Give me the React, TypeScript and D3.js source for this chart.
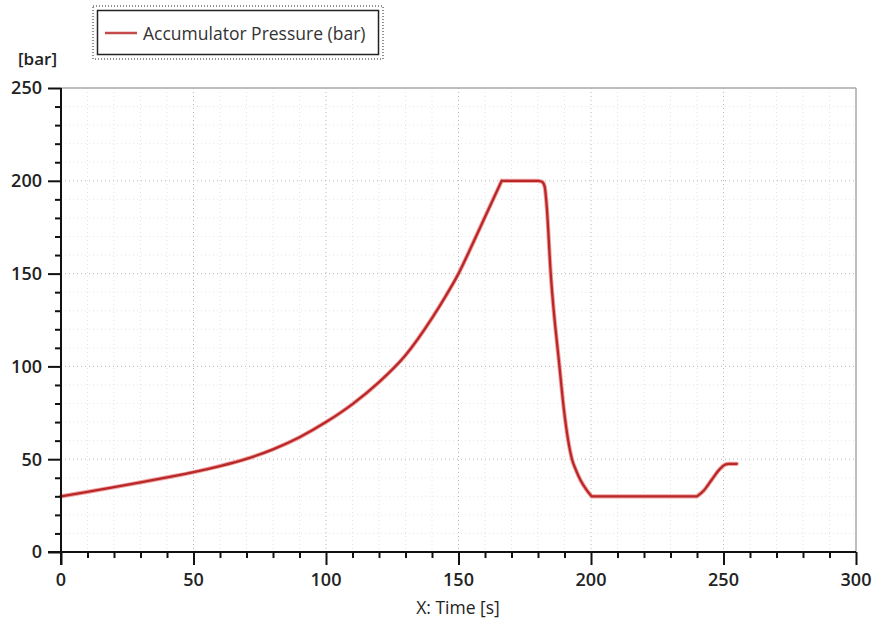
import React, { useEffect, useRef } from 'react';
import * as d3 from 'd3';

const time = [0, 10, 20, 30, 40, 50, 60, 70, 80, 90, 100, 110, 120, 130, 140, 145, 150, 155, 160, 166.3,
  180, 181.5, 182.5, 183.2, 184.8, 188.1, 189.8, 192.9, 194.3, 196, 198.3, 200.2,
  240, 242.5, 245.5, 248.5, 250.5, 252, 255];
const pressure = [30, 32.4, 34.9, 37.5, 40.2, 43, 46.3, 50.2, 55.3, 61.8, 70, 79.7, 91.5, 106, 126, 137.5, 150, 165, 180.5, 200,
  200, 199.5, 197, 188, 150, 100, 76.5, 49.6, 44.2, 38.8, 33.5, 30,
  30, 33, 38.8, 44.5, 47, 47.5, 47.5];
// index ranges of the smooth pieces (corners between them stay sharp)
const pieces = [[0, 19], [19, 20], [20, 31], [31, 32], [32, 38]];

const xTicks = [0, 50, 100, 150, 200, 250, 300];
const yTicks = [0, 50, 100, 150, 200, 250];
const seriesName = 'Accumulator Pressure (bar)';

const W = 872;
const H = 623;
const left = 61, right = 856, top = 88, bottom = 552;

export default function App() {
  const ref = useRef<SVGSVGElement>(null);

  useEffect(() => {
    const svg = d3.select(ref.current);
    svg.selectAll('*').remove();

    const x = d3.scaleLinear().domain([0, 300]).range([left, right]);
    const y = d3.scaleLinear().domain([0, 250]).range([bottom, top]);
    const minor = d3.range(0, 301, 10);
    const minorY = d3.range(0, 251, 10);

    const grid = svg.append('g');
    // minor grid
    grid.selectAll('.mx').data(minor.filter(d => d % 50 !== 0)).enter().append('line')
      .attr('x1', d => x(d)).attr('x2', d => x(d)).attr('y1', top).attr('y2', bottom)
      .attr('stroke', '#e4e4e4').attr('stroke-dasharray', '1,3');
    grid.selectAll('.my').data(minorY.filter(d => d % 50 !== 0)).enter().append('line')
      .attr('y1', d => y(d)).attr('y2', d => y(d)).attr('x1', left).attr('x2', right)
      .attr('stroke', '#e4e4e4').attr('stroke-dasharray', '1,3');
    // major grid
    grid.selectAll('.Mx').data(xTicks.slice(1, -1)).enter().append('line')
      .attr('x1', d => x(d)).attr('x2', d => x(d)).attr('y1', top).attr('y2', bottom)
      .attr('stroke', '#b8b8b8').attr('stroke-dasharray', '1,3');
    grid.selectAll('.My').data(yTicks.slice(1, -1)).enter().append('line')
      .attr('y1', d => y(d)).attr('y2', d => y(d)).attr('x1', left).attr('x2', right)
      .attr('stroke', '#b8b8b8').attr('stroke-dasharray', '1,3');
    // frame top/right
    grid.append('line').attr('x1', left).attr('x2', right).attr('y1', top).attr('y2', top)
      .attr('stroke', '#a8a8a8').attr('stroke-width', 1.5);
    grid.append('line').attr('x1', right).attr('x2', right).attr('y1', top).attr('y2', bottom)
      .attr('stroke', '#a8a8a8').attr('stroke-width', 1.5);

    // line, drawn piece by piece
    const line = d3.line<[number, number]>()
      .x(d => x(d[0]))
      .y(d => y(d[1]))
      .curve(d3.curveMonotoneX);
    const segs = pieces.map(([a, b]) =>
      d3.range(a, b + 1).map(i => [time[i], pressure[i]] as [number, number]));
    const d = segs.map(s => line(s)).join('');
    svg.append('path').attr('d', d)
      .attr('fill', 'none')
      .attr('stroke', '#f2a0a0')
      .attr('stroke-width', 4.2)
      .attr('stroke-linejoin', 'round').attr('stroke-linecap', 'round');
    svg.append('path').attr('d', d)
      .attr('fill', 'none')
      .attr('stroke', '#b82828')
      .attr('stroke-width', 2.3)
      .attr('stroke-linejoin', 'round').attr('stroke-linecap', 'round');

    // axes
    const font = '"Open Sans", sans-serif';
    const yAxis = svg.append('g').attr('transform', `translate(${left},0)`);
    yAxis.call(d3.axisLeft(y).tickValues(minorY).tickSize(6).tickFormat(() => ''));
    yAxis.call(g => g.selectAll('.tick').filter((d: any) => d % 50 === 0).select('line').attr('x2', -13));
    yAxis.selectAll('.domain').remove();
    yAxis.append('line').attr('x1', 0).attr('x2', 0).attr('y1', top).attr('y2', bottom + 13);
    yAxis.selectAll('line').attr('stroke', '#111').attr('stroke-width', 2);
    yAxis.selectAll('.lbl').data(yTicks).enter().append('text')
      .attr('x', -19).attr('y', d => y(d)).attr('dy', '0.35em')
      .attr('text-anchor', 'end')
      .attr('font-family', font).attr('font-weight', 600).attr('font-size', 18).attr('fill', '#222')
      .text(d => d);

    const xAxis = svg.append('g').attr('transform', `translate(0,${bottom})`);
    xAxis.call(d3.axisBottom(x).tickValues(minor).tickSize(6).tickFormat(() => ''));
    xAxis.call(g => g.selectAll('.tick').filter((d: any) => d % 50 === 0).select('line').attr('y2', 13));
    xAxis.selectAll('.domain').remove();
    xAxis.append('line').attr('x1', left - 13).attr('x2', right).attr('y1', 0).attr('y2', 0);
    xAxis.selectAll('line').attr('stroke', '#111').attr('stroke-width', 2);
    xAxis.selectAll('.lbl').data(xTicks).enter().append('text')
      .attr('x', d => x(d)).attr('y', 34)
      .attr('text-anchor', 'middle')
      .attr('font-family', font).attr('font-weight', 600).attr('font-size', 18).attr('fill', '#222')
      .text(d => d);

    svg.append('text').attr('x', 458).attr('y', 614).attr('text-anchor', 'middle')
      .attr('font-family', font).attr('font-size', 17.5).attr('fill', '#222')
      .text('X: Time [s]');
    svg.append('text').attr('x', 18).attr('y', 65)
      .attr('font-family', font).attr('font-weight', 600).attr('font-size', 17).attr('fill', '#222')
      .text('[bar]');

    // legend
    const lg = svg.append('g');
    lg.append('rect').attr('x', 93).attr('y', 6).attr('width', 290).attr('height', 53)
      .attr('fill', 'none').attr('stroke', '#222').attr('stroke-dasharray', '1,2');
    lg.append('rect').attr('x', 97.5).attr('y', 10.5).attr('width', 281).attr('height', 44)
      .attr('fill', '#fff').attr('stroke', '#222').attr('stroke-width', 1.5);
    lg.append('line').attr('x1', 105).attr('x2', 137).attr('y1', 33).attr('y2', 33)
      .attr('stroke', '#c44a4a').attr('stroke-width', 2.5);
    lg.append('text').attr('x', 143).attr('y', 40)
      .attr('font-family', font).attr('font-size', 17.5).attr('fill', '#333')
      .text(seriesName);
  }, []);

  return (
    <svg ref={ref} width={W} height={H}
      style={{ position: 'absolute', left: 0, top: 0, background: '#fff' }} />
  );
}
